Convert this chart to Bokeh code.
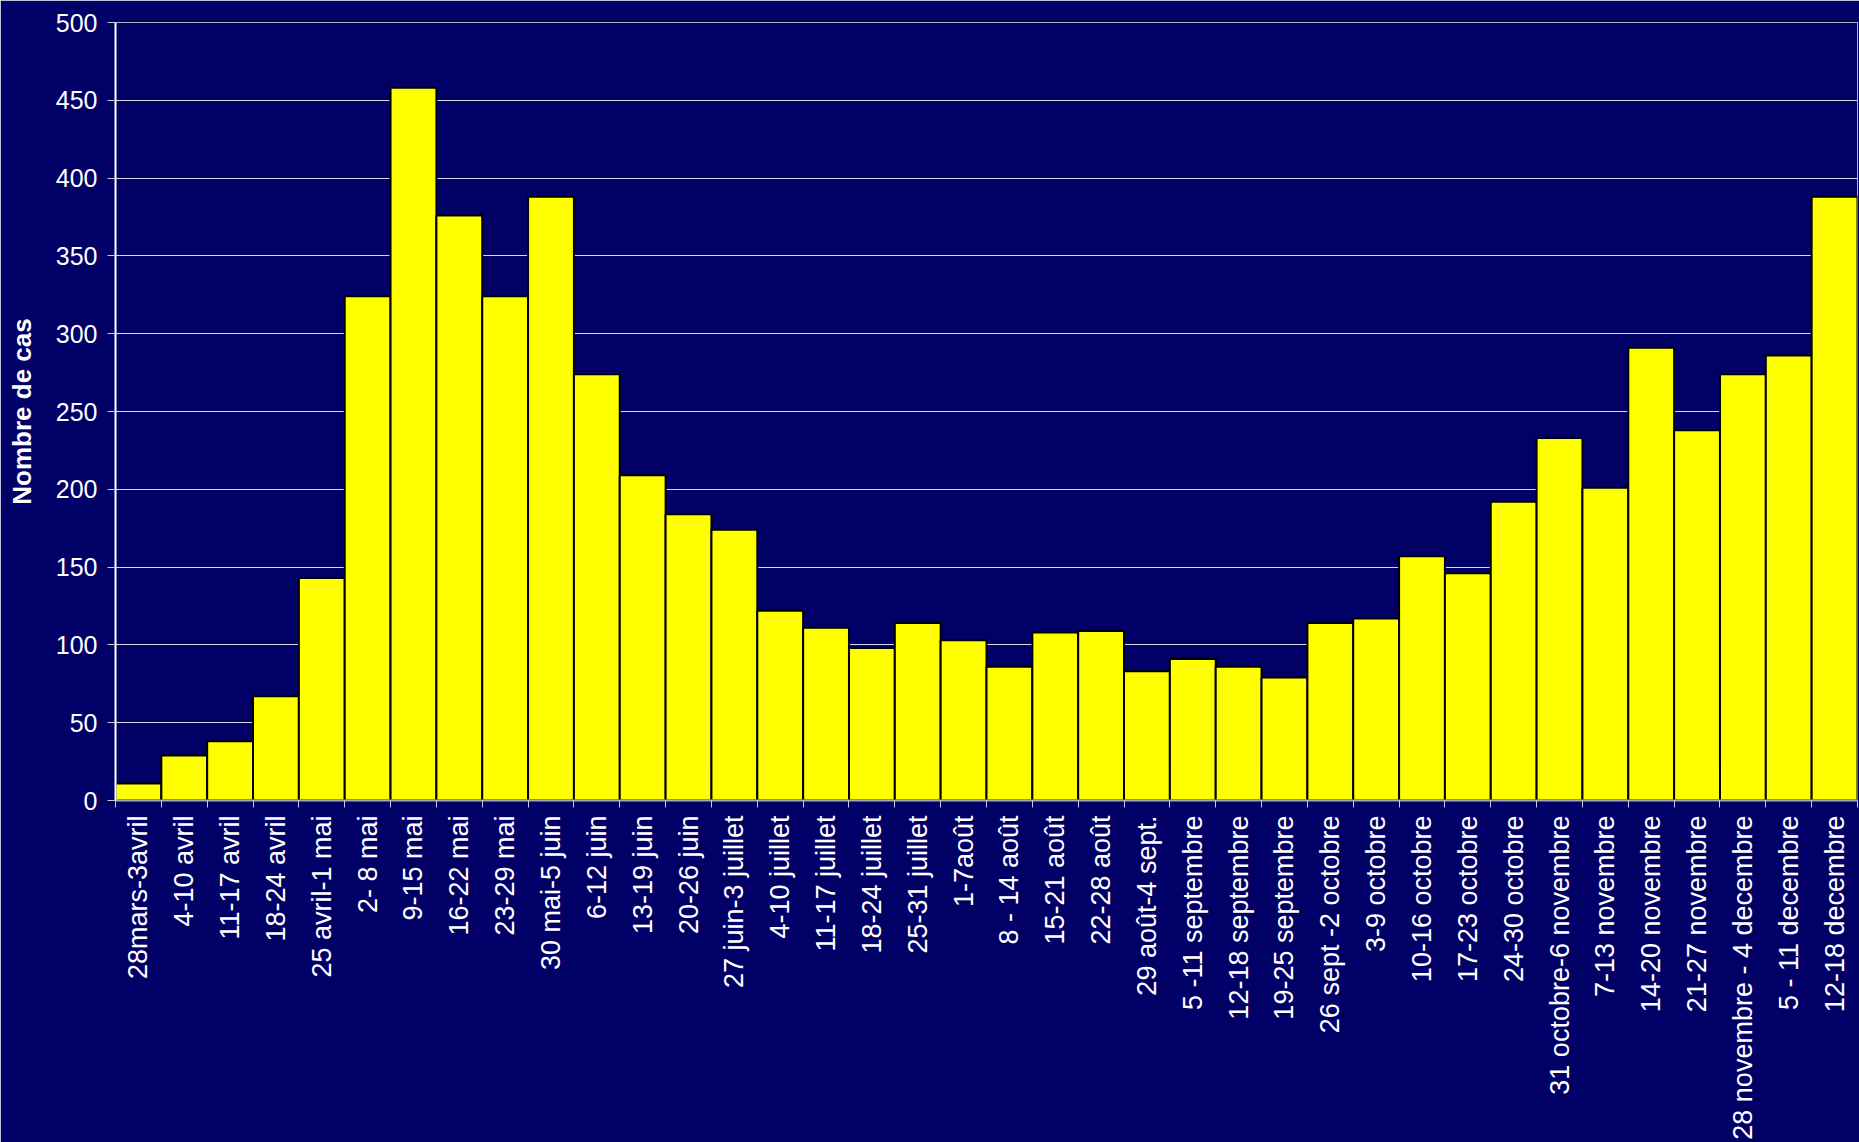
import numpy as np
from bokeh.plotting import figure
from bokeh.models import FixedTicker, Range1d
from bokeh.embed import file_html
from bokeh.resources import INLINE

# Weekly periods (x axis categories)
weeks = [
    "28mars-3avril", "4-10 avril", "11-17 avril", "18-24 avril", "25 avril-1 mai",
    "2- 8 mai", "9-15 mai", "16-22 mai", "23-29 mai", "30 mai-5 juin",
    "6-12 juin", "13-19 juin", "20-26 juin", "27 juin-3 juillet", "4-10 juillet",
    "11-17 juillet", "18-24 juillet", "25-31 juillet", "1-7août", "8 - 14 août",
    "15-21 août", "22-28 août", "29 août-4 sept.", "5 -11 septembre", "12-18 septembre",
    "19-25 septembre", "26 sept -2 octobre", "3-9 octobre", "10-16 octobre", "17-23 octobre",
    "24-30 octobre", "31 octobre-6 novembre", "7-13 novembre", "14-20 novembre",
    "21-27 novembre", "28 novembre - 4 decembre", "5 - 11 decembre", "12-18 decembre",
]

# Number of cases per week
cases = [
    11, 29, 38, 67, 143, 324, 458, 376, 324, 388,
    274, 209, 184, 174, 122, 111, 98, 114, 103, 86,
    108, 109, 83, 91, 86, 79, 114, 117, 157, 146,
    192, 233, 201, 291, 238, 274, 286, 388,
]

# Y axis ticks
y_ticks = list(range(0, 501, 50))

FONT = "Liberation Sans"
BG = "#000066"

n = len(weeks)
xs = list(range(n))

p = figure(
    width=1859, height=1142,
    output_backend="svg", toolbar_location=None,
    x_range=Range1d(-0.5, n - 0.5), y_range=Range1d(0, 500),
    background_fill_color=BG, border_fill_color=BG,
    min_border_left=115, min_border_right=2,
    min_border_top=22, min_border_bottom=341,
)

p.vbar(x=xs, top=cases, bottom=0, width=1.0,
       fill_color="#FFFF00", line_color="black", line_width=2)

# x axis: labels centred on bars, tick marks on bar boundaries
ax = p.xaxis[0]
ax.ticker = FixedTicker(ticks=xs, minor_ticks=[i - 0.5 for i in range(n + 1)])
ax.major_label_overrides = {i: w for i, w in enumerate(weeks)}
ax.major_label_orientation = np.pi / 2
ax.major_tick_out = 0
ax.major_tick_in = 0
ax.minor_tick_out = 7
ax.minor_tick_in = 0
ax.minor_tick_line_color = "#C8C8D8"
ax.minor_tick_line_width = 1
ax.axis_line_color = "#A8A8B8"
ax.axis_line_width = 2
ax.major_label_text_color = "white"
ax.major_label_text_font = FONT
ax.major_label_text_font_size = "27px"
ax.major_label_standoff = 8

# y axis
ay = p.yaxis[0]
ay.ticker = FixedTicker(ticks=y_ticks)
ay.axis_label = "Nombre de cas"
ay.axis_label_text_font = FONT
ay.axis_label_text_font_style = "bold"
ay.axis_label_text_font_size = "26px"
ay.axis_label_text_color = "white"
ay.axis_label_standoff = 16
ay.major_label_text_color = "white"
ay.major_label_text_font = FONT
ay.major_label_text_font_size = "25px"
ay.major_label_standoff = 10
ay.axis_line_color = "white"
ay.axis_line_width = 2
ay.major_tick_out = 8
ay.major_tick_in = 0
ay.major_tick_line_color = "#C8C8D8"
ay.minor_tick_out = 0
ay.minor_tick_in = 0

p.xgrid.visible = False
p.ygrid.grid_line_color = "white"
p.ygrid.grid_line_alpha = 0.85
p.ygrid.grid_line_width = 1

p.outline_line_color = "#B0B0C0"
p.outline_line_width = 1

open("out.html", "w").write(file_html(p, INLINE))
